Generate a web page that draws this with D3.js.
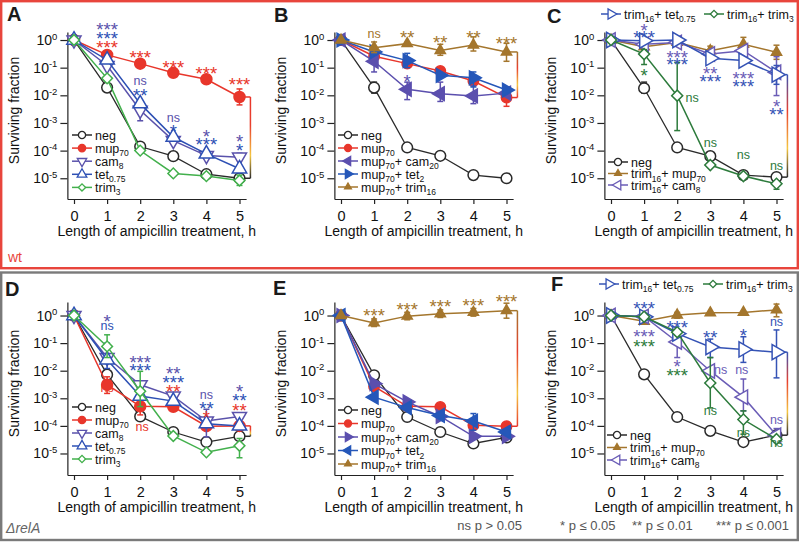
<!DOCTYPE html>
<html>
<head>
<meta charset="utf-8">
<title>Surviving fraction</title>
<script src="https://cdn.jsdelivr.net/npm/d3@7"></script>
<style>
  body { margin: 0; background: #fff; }
  svg text { font-family: "Liberation Sans", Arial, Helvetica, sans-serif; }
</style>
</head>
<body>
<svg id="chart" width="800" height="542"></svg>
<script>
"use strict"

// horas de tratamento e ticks do eixo y
const hours = [0, 1, 2, 3, 4, 5];
const yTicks = [1, 1e-1, 1e-2, 1e-3, 1e-4, 1e-5];

// painel A (wt)
const aNeg    = [1, 0.019, 1.4e-4, 6.3e-5, 1.4e-5, 1.0e-5];
const aMup70  = [1, 0.29, 0.14, 0.065, 0.038, 0.0087];
const aCam8   = [1, 0.12, 0.0029, 2.3e-4, 6.6e-5, 5.8e-5];
const aTet075 = [1, 0.19, 0.005, 3.1e-4, 7.6e-5, 2.2e-5];
const aTrim3  = [1, 0.041, 1.0e-4, 1.5e-5, 1.2e-5, 8.3e-6];

// painel B
const bNeg        = [1, 0.019, 1.3e-4, 6.5e-5, 1.3e-5, 1.0e-5];
const bMup70      = [1, 0.26, 0.14, 0.076, 0.033, 0.0083];
const bMupCam20   = [1, 0.17, 0.0165, 0.0115, 0.0095, 0.012];
const bMupTet2    = [1, 0.37, 0.18, 0.053, 0.043, 0.0155];
const bMupTrim16  = [1, 0.53, 0.74, 0.42, 0.66, 0.37];

// painel C
const cNeg        = [1, 0.018, 1.3e-4, 6.3e-5, 1.3e-5, 1.1e-5];
const cTrimMup70  = [1, 0.57, 0.82, 0.41, 0.7, 0.36];
const cTrimCam8   = [1, 0.7, 0.82, 0.31, 0.41, 0.068];
const cTrimTet075 = [1, 0.95, 1.0, 0.22, 0.18, 0.056];
const cTrimTrim3  = [1, 0.31, 0.0097, 3.0e-5, 1.2e-5, 6.3e-6];

// painel D (relA)
const dNeg    = [1, 0.0072, 2.2e-4, 6.0e-5, 2.6e-5, 4.2e-5];
const dMup70  = [1, 0.0031, 5.1e-4, 4.9e-4, 9.8e-5, 1.0e-4];
const dCam8   = [1, 0.03, 0.0031, 0.0012, 1.5e-4, 2.2e-4];
const dTet075 = [1, 0.025, 0.0012, 7.9e-4, 1.2e-4, 1.0e-4];
const dTrim3  = [1, 0.076, 0.0018, 4.3e-5, 1.1e-5, 1.9e-5];

// painel E
const eNeg       = [1, 0.0068, 2.1e-4, 6.0e-5, 2.3e-5, 3.8e-5];
const eMup70     = [1, 0.0027, 5.1e-4, 4.9e-4, 1.05e-4, 9.7e-5];
const eMupCam20  = [1, 0.0034, 7.4e-4, 2.2e-4, 4.2e-5, 4.2e-5];
const eMupTet2   = [1, 0.0011, 4.6e-4, 2.4e-4, 1.5e-4, 6.0e-5];
const eMupTrim16 = [1, 0.54, 0.95, 1.15, 1.3, 1.5];

// painel F
const fNeg        = [1, 0.0074, 2.1e-4, 6.6e-5, 2.6e-5, 4.6e-5];
const fTrimMup70  = [1, 0.62, 1.05, 1.25, 1.3, 1.6];
const fTrimCam8   = [1, 0.92, 0.11, 0.0098, 0.0011, 4.6e-5];
const fTrimTet075 = [1, 0.9, 0.22, 0.072, 0.059, 0.047];
const fTrimTrim3  = [1, 0.9, 0.25, 0.0036, 1.7e-4, 3.3e-5];

// barras de erro: [serie, hora, min, max]
const errA = [["neg",1,0.013,0.026],["mup70",5,0.0045,0.017],["cam8",2,0.0012,0.0062],["cam8",5,2.6e-5,8e-5],["trim3",5,5.5e-6,1.3e-5]];
const errB = [["neg",1,0.012,0.03],["mup70",5,0.004,0.016],["cam20",1,0.07,0.3],["cam20",2,0.007,0.03],["cam20",3,0.006,0.03],
              ["cam20",4,0.005,0.022],["tet2",2,0.1,0.33],["tet2",4,0.02,0.07],["trim16",1,0.35,0.85],["trim16",3,0.28,0.7],
              ["trim16",4,0.4,1.3],["trim16",5,0.17,0.76]];
const errC = [["neg",1,0.012,0.03],["trim3",1,0.13,0.45],["trim3",2,5.3e-4,0.155],["trim3",5,4e-6,8e-6],["cam8",5,0.0098,0.25],
              ["tet",5,0.025,0.12],["mup70",3,0.3,0.6],["mup70",4,0.4,1.25],["mup70",5,0.2,0.65]];
const errD = [["mup70",1,1.5e-3,6e-3],["mup70",2,2.5e-4,1e-3],["tet",1,0.012,0.1],["trim3",1,0.03,0.2],["trim3",2,5e-4,9.5e-3],
              ["cam8",4,4e-5,4e-4],["trim3",5,7e-6,3.5e-5]];
const errE = [["trim16",1,0.4,0.75],["trim16",2,0.7,1.3],["trim16",3,0.85,1.6],["trim16",4,0.95,1.8],["trim16",5,0.8,2.8],
              ["tet2",4,7e-5,2.8e-4]];
const errF = [["mup70",2,0.8,1.3],["mup70",5,0.9,2.6],["tet",3,0.03,0.14],["tet",4,0.02,0.17],["tet",5,0.0055,0.3],
              ["cam8",2,0.03,0.23],["cam8",4,3.5e-4,5e-3],["cam8",5,2.5e-5,8e-5],["trim3",3,4.5e-4,0.03],["trim3",4,5e-5,3.5e-4]];

// asteriscos: [hora, expoente, texto, cor]
const notesA = [[1,0.54,"***","cam"],[1,0.22,"***","tet"],[1,-0.12,"***","mup"],
  [2,-0.46,"***","mup"],[2,-1.51,"ns","cam"],[2,-1.84,"**","tet"],
  [3,-0.82,"***","mup"],[3,-2.85,"ns","cam"],[3,-3.15,"*","tet"],
  [4,-1.03,"***","mup"],[4,-3.31,"*","cam"],[4,-3.61,"***","tet"],
  [5,-1.45,"***","mup"],[5,-3.49,"*","cam"],[5,-3.84,"*","tet"]];
const notesB = [[1,0.2,"ns","brown"],[2,0.27,"**","brown"],[2,-1.34,"*","camB"],
  [3,0.08,"**","brown"],[4,0.27,"**","brown"],[5,0.05,"***","brown"]];
const notesC = [[1,0.52,"*","camC"],[1,0.25,"***","tetC"],[1,-1.11,"*","trimDark"],
  [2,-0.47,"***","camC"],[2,-0.71,"***","tetC"],[2.45,-2.13,"ns","trimDark"],
  [3,-1.05,"**","camC"],[3,-1.33,"***","tetC"],[3,-3.76,"ns","trimDark"],
  [4,-1.23,"***","camC"],[4,-1.51,"***","tetC"],[4,-4.18,"ns","trimDark"],
  [5,-2.25,"*","camC"],[5,-2.53,"**","tetC"],[5,-4.57,"ns","trimDark"]];
const notesD = [[1,-0.06,"*","cam"],[1,-0.4,"ns","tet"],[1,-2.66,"ns","mup"],
  [2,-1.52,"***","cam"],[2,-1.84,"***","tet"],[2.06,-4.08,"ns","mup"],
  [3,-1.94,"**","cam"],[3,-2.27,"***","tet"],[3,-2.59,"**","mup"],
  [4,-2.9,"ns","cam"],[4,-3.2,"**","tet"],[4,-3.53,"*","mup"],
  [5,-2.57,"*","cam"],[5,-2.9,"**","tet"],[5,-3.29,"**","mup"]];
const notesE = [[1,0.16,"***","brown"],[2,0.4,"***","brown"],[3,0.48,"***","brown"],
  [4,0.52,"***","brown"],[5,0.69,"***","brown"]];
const notesF = [[1,0.42,"***","tetC"],[1,-0.6,"***","camC"],[1,-0.94,"***","trimDark"],
  [2,-0.27,"***","tetC"],[2,-1.69,"*","camC"],[2,-2.01,"***","trimDark"],
  [3,-0.63,"**","tetC"],[3.31,-2.0,"ns","camC"],[3,-3.49,"ns","trimDark"],
  [4,-0.57,"*","tetC"],[3.95,-2.0,"ns","camC"],[4,-4.28,"ns","trimDark"],
  [5,-0.24,"ns","tetC"],[5,-3.8,"ns","camC"],[5,-4.64,"ns","trimDark"]];

var cor = {
  neg: "#2a2a2a", mup: "#e8362b", cam: "#5a52ab", tet: "#2d50b4", trim3: "#42b04c",
  brown: "#a4762d", camB: "#5b4fae", tetB: "#2557b9", camC: "#6a5cb6", tetC: "#3553b5", trimDark: "#2d7b3c"
};

var linhaTop = { axis: 199, top: 32, dom: [Math.pow(10, -5.75), Math.pow(10, 0.29)] };
var linhaBot = { axis: 475, top: 302, dom: [Math.pow(10, -5.78), Math.pow(10, 0.49)] };

function serie(id, label, v, c, shape, filled, size) {
  return { id: id, label: label, v: v, c: c, shape: shape, filled: filled, size: size };
}

var paineis = [
  { letter: "A", lp: [7, 21], x0: 74, row: linhaTop,
    series: [serie("neg","neg",aNeg,cor.neg,"circle",false,90), serie("mup70","mup_70",aMup70,cor.mup,"circle",true,95),
             serie("cam8","cam_8",aCam8,cor.cam,"down",false,85), serie("tet","tet_0.75",aTet075,cor.tet,"up",false,90),
             serie("trim3","trim_3",aTrim3,cor.trim3,"diamond",false,105)],
    legend: { x: 72, y: 135, dy: 13.1, ids: ["neg","mup70","cam8","tet","trim3"] },
    errs: errA, notes: notesA, bracket: ["mup70","neg"] },
  { letter: "B", lp: [274, 22], x0: 341, row: linhaTop,
    series: [serie("neg","neg",bNeg,cor.neg,"circle",false,90), serie("mup70","mup_70",bMup70,cor.mup,"circle",true,85),
             serie("cam20","mup_70+ cam_20",bMupCam20,cor.camB,"left",true,80), serie("tet2","mup_70+ tet_2",bMupTet2,cor.tetB,"right",true,80),
             serie("trim16","mup_70+ trim_16",bMupTrim16,cor.brown,"up",true,45)],
    legend: { x: 338, y: 135, dy: 13, ids: ["neg","mup70","cam20","tet2","trim16"] },
    errs: errB, notes: notesB, bracket: ["trim16","mup70"] },
  { letter: "C", lp: [547, 23], x0: 611, row: linhaTop,
    series: [serie("neg","neg",cNeg,cor.neg,"circle",false,90), serie("mup70","trim_16+ mup_70",cTrimMup70,cor.brown,"up",true,45),
             serie("cam8","trim_16+ cam_8",cTrimCam8,cor.camC,"left",false,90), serie("tet","trim_16+ tet_0.75",cTrimTet075,cor.tetC,"right",false,100),
             serie("trim3","trim_16+ trim_3",cTrimTrim3,cor.trimDark,"diamond",false,110)],
    legend: { x: 608, y: 162, dy: 11.5, ids: ["neg","mup70","cam8"] },
    topLegend: { y: 14, items: [["tet", 601], ["trim3", 704]] },
    errs: errC, notes: notesC, bracket: ["tet","neg"] },
  { letter: "D", lp: [5, 296], x0: 74, row: linhaBot,
    series: [serie("neg","neg",dNeg,cor.neg,"circle",false,90), serie("mup70","mup_70",dMup70,cor.mup,"circle",true,95),
             serie("cam8","cam_8",dCam8,cor.cam,"down",false,85), serie("tet","tet_0.75",dTet075,cor.tet,"up",false,90),
             serie("trim3","trim_3",dTrim3,cor.trim3,"diamond",false,105)],
    legend: { x: 72, y: 407, dy: 13, ids: ["neg","mup70","cam8","tet","trim3"] },
    errs: errD, notes: notesD, bracket: ["mup70","neg"] },
  { letter: "E", lp: [273, 295], x0: 341, row: linhaBot,
    series: [serie("neg","neg",eNeg,cor.neg,"circle",false,90), serie("mup70","mup_70",eMup70,cor.mup,"circle",true,85),
             serie("cam20","mup_70+ cam_20",eMupCam20,cor.camB,"right",true,80), serie("tet2","mup_70+ tet_2",eMupTet2,cor.tetB,"left",true,80),
             serie("trim16","mup_70+ trim_16",eMupTrim16,cor.brown,"up",true,45)],
    legend: { x: 338, y: 410, dy: 13.5, ids: ["neg","mup70","cam20","tet2","trim16"] },
    errs: errE, notes: notesE, bracket: ["trim16","mup70"] },
  { letter: "F", lp: [551, 291], x0: 611, row: linhaBot,
    series: [serie("neg","neg",fNeg,cor.neg,"circle",false,90), serie("mup70","trim_16+ mup_70",fTrimMup70,cor.brown,"up",true,45),
             serie("cam8","trim_16+ cam_8",fTrimCam8,cor.camC,"left",false,90), serie("tet","trim_16+ tet_0.75",fTrimTet075,cor.tetC,"right",false,100),
             serie("trim3","trim_16+ trim_3",fTrimTrim3,cor.trimDark,"diamond",false,110)],
    legend: { x: 607, y: 435, dy: 12.5, ids: ["neg","mup70","cam8"] },
    topLegend: { y: 284, items: [["tet", 599], ["trim3", 703]] },
    errs: errF, notes: notesF, bracket: ["tet","neg"] }
];

var svg = d3.select("#chart");

// molduras
svg.append("rect").attr("x", 1.2).attr("y", 1.2).attr("width", 796.6).attr("height", 267)
  .attr("fill", "none").attr("stroke", "#e8453c").attr("stroke-width", 2.4);
svg.append("rect").attr("x", 1.2).attr("y", 272.5).attr("width", 796.6).attr("height", 267.5)
  .attr("fill", "none").attr("stroke", "#7a7a7a").attr("stroke-width", 2.4);

var defs = svg.append("defs");

function marcador(shape, size) {
  if (shape === "circle") return { d: d3.symbol(d3.symbolCircle, size)(), rot: 0 };
  if (shape === "diamond") return { d: d3.symbol(d3.symbolSquare, size * 0.55)(), rot: 45 };
  var rot = { up: 0, down: 180, left: -90, right: 90 }[shape];
  return { d: d3.symbol(d3.symbolTriangle, size)(), rot: rot };
}

// texto com subscritos (mup_70 etc)
function rotulo(t, str, subSize) {
  var partes = str.split(/(_[0-9.]+)/), baixo = false;
  partes.forEach(function(p) {
    if (!p) return;
    if (p[0] === "_") {
      t.append("tspan").attr("dy", baixo ? 0 : 3.5).attr("font-size", subSize).text(p.slice(1));
      baixo = true;
    } else {
      t.append("tspan").attr("dy", baixo ? -3.5 : 0).text(p);
      baixo = false;
    }
  });
}

function desenhaPainel(p, idx) {
  var g = svg.append("g");
  var x = d3.scaleLinear().domain([-0.2, 5.2]).range([p.x0 - 0.2 * 33.1, p.x0 + 5.2 * 33.1]);
  var y = d3.scaleLog().domain(p.row.dom).range([p.row.axis, p.row.top]);
  var porId = {};
  p.series.forEach(function(s) { porId[s.id] = s; });

  // eixos
  var gx = g.append("g").attr("transform", "translate(0," + p.row.axis + ")")
    .call(d3.axisBottom(x).tickValues(hours).tickFormat(d3.format("d")).tickSize(5).tickSizeOuter(0).tickPadding(7));
  gx.selectAll("text").attr("font-size", 14.5).attr("fill", "#111");
  var gy = g.append("g").attr("transform", "translate(" + x(-0.2) + ",0)")
    .call(d3.axisLeft(y).tickValues(yTicks).tickSize(7).tickSizeOuter(0).tickPadding(3).tickFormat(""));
  gy.selectAll(".tick text").each(function(d) {
    var t = d3.select(this).attr("font-size", 14).attr("fill", "#111");
    t.append("tspan").text("10");
    t.append("tspan").attr("dy", "-0.55em").attr("font-size", 9.5).text(Math.round(Math.log10(d)));
  });
  g.selectAll(".domain, .tick line").attr("stroke", "#222").attr("stroke-width", 1.2);

  g.append("text").attr("x", x(2.5)).attr("y", p.row.axis + 37).attr("text-anchor", "middle")
    .attr("font-size", 14).attr("fill", "#111").text("Length of ampicillin treatment, h");
  g.append("text").attr("transform", "translate(" + (p.x0 - 55) + "," + ((p.row.axis + p.row.top) / 2 - 5) + ") rotate(-90)")
    .attr("text-anchor", "middle").attr("font-size", 14).attr("fill", "#111").text("Surviving fraction");
  g.append("text").attr("x", p.lp[0]).attr("y", p.lp[1]).attr("font-size", 20).attr("font-weight", "bold")
    .attr("fill", "#1a1a1a").text(p.letter);

  // colchete colorido a direita
  var sTop = porId[p.bracket[0]], sBot = porId[p.bracket[1]];
  var yt = y(sTop.v[5]), yb = y(sBot.v[5]), xb = x(5.33);
  var gid = "grad" + idx;
  var grad = defs.append("linearGradient").attr("id", gid).attr("gradientUnits", "userSpaceOnUse")
    .attr("x1", 0).attr("x2", 0).attr("y1", yt).attr("y2", yb);
  [[0, sTop.c], [0.35, "#e8402e"], [0.72, "#f5c640"], [1, sBot.c]].forEach(function(st) {
    grad.append("stop").attr("offset", st[0]).attr("stop-color", st[1]);
  });
  g.append("line").attr("x1", x(5)).attr("x2", xb).attr("y1", yt).attr("y2", yt).attr("stroke", sTop.c).attr("stroke-width", 1.5);
  g.append("line").attr("x1", x(5)).attr("x2", xb).attr("y1", yb).attr("y2", yb).attr("stroke", sBot.c).attr("stroke-width", 1.5);
  g.append("rect").attr("x", xb - 0.75).attr("y", yt).attr("width", 1.5).attr("height", yb - yt).attr("fill", "url(#" + gid + ")");

  var linha = d3.line().x(function(d, i) { return x(hours[i]); }).y(function(d) { return y(d); });

  p.series.forEach(function(s) {
    g.append("path").datum(s.v).attr("d", linha).attr("fill", "none").attr("stroke", s.c)
      .attr("stroke-width", s.id === "neg" ? 1.3 : 1.5);
    var ers = p.errs.filter(function(e) { return e[0] === s.id; });
    ers.forEach(function(e) {
      var xe = x(e[1]);
      g.append("line").attr("x1", xe).attr("x2", xe).attr("y1", y(e[2])).attr("y2", y(e[3])).attr("stroke", s.c).attr("stroke-width", 1.5);
      [e[2], e[3]].forEach(function(v) {
        g.append("line").attr("x1", xe - 3).attr("x2", xe + 3).attr("y1", y(v)).attr("y2", y(v)).attr("stroke", s.c).attr("stroke-width", 1.5);
      });
    });
    var m = marcador(s.shape, s.size);
    g.selectAll(null).data(s.v).enter().append("path")
      .attr("d", m.d)
      .attr("transform", function(d, i) { return "translate(" + x(hours[i]) + "," + y(d) + ") rotate(" + m.rot + ")"; })
      .attr("fill", s.filled ? s.c : "#fff").attr("stroke", s.c).attr("stroke-width", 1.5);
  });

  // legenda dentro do grafico
  p.legend.ids.forEach(function(id, i) {
    var s = porId[id], ly = p.legend.y + i * p.legend.dy;
    desenhaItem(g, s, p.legend.x, ly);
  });
  if (p.topLegend) {
    p.topLegend.items.forEach(function(it) {
      desenhaItem(g, porId[it[0]], it[1], p.topLegend.y);
    });
  }

  // asteriscos e ns
  p.notes.forEach(function(n) {
    var estrela = n[2].indexOf("*") >= 0;
    g.append("text").attr("x", x(n[0])).attr("y", y(Math.pow(10, n[1])))
      .attr("dy", estrela ? "0.6em" : "0.27em").attr("text-anchor", "middle")
      .attr("font-size", estrela ? 18.5 : 12.5).attr("fill", cor[n[3]]).text(n[2]);
  });
}

function desenhaItem(g, s, lx, ly) {
  g.append("line").attr("x1", lx).attr("x2", lx + 20).attr("y1", ly).attr("y2", ly).attr("stroke", s.c).attr("stroke-width", 1.5);
  var m = marcador(s.shape, s.size * 0.45);
  g.append("path").attr("d", m.d).attr("transform", "translate(" + (lx + 10) + "," + ly + ") rotate(" + m.rot + ")")
    .attr("fill", s.filled ? s.c : "#fff").attr("stroke", s.c).attr("stroke-width", 1.3);
  var t = g.append("text").attr("x", lx + 23).attr("y", ly + 4.5).attr("font-size", 12.5).attr("fill", "#111");
  rotulo(t, s.label, 8.5);
}

paineis.forEach(desenhaPainel);

// textos de rodape
svg.append("text").attr("x", 8).attr("y", 262).attr("font-size", 14).attr("fill", "#e8453c").text("wt");
svg.append("text").attr("x", 6).attr("y", 533).attr("font-size", 14).attr("font-style", "italic").attr("fill", "#666").text("\u0394relA");
svg.append("text").attr("x", 522).attr("y", 530).attr("text-anchor", "end").attr("font-size", 13).attr("fill", "#555").text("ns p > 0.05");
[[560, "* p \u2264 0.05"], [632, "** p \u2264 0.01"], [716, "*** p \u2264 0.001"]].forEach(function(f) {
  svg.append("text").attr("x", f[0]).attr("y", 530).attr("font-size", 13).attr("fill", "#555").text(f[1]);
});
</script>
</body>
</html>
